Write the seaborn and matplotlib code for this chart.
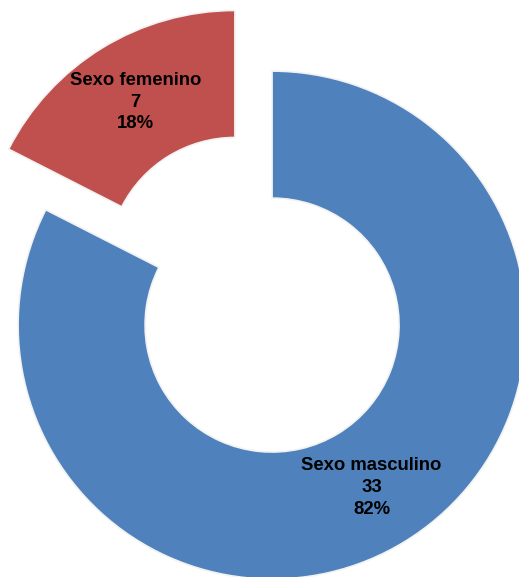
import numpy as np
import matplotlib
matplotlib.use("Agg")
import matplotlib.pyplot as plt
import seaborn as sns

sns.set_theme(style="white")
plt.rcParams["font.family"] = ["Liberation Sans", "DejaVu Sans"]

categories = ["Sexo masculino", "Sexo femenino"]
counts = [33, 7]
percent_labels = ["82%", "18%"]
colors = ["#4F81BD", "#C0504D"]
explode = [0.0, 0.28]

fig = plt.figure(figsize=(5.19, 5.77), dpi=100)
ax = fig.add_axes([0, 0, 1, 1])

wedges, _ = ax.pie(
    counts,
    colors=colors,
    explode=explode,
    startangle=90,
    counterclock=False,
    radius=1.0,
    wedgeprops=dict(width=0.5, edgecolor="#f2f2f2", linewidth=1.2),
)

for w, name, n, pct in zip(wedges, categories, counts, percent_labels):
    mid = np.deg2rad((w.theta1 + w.theta2) / 2)
    r = w.r - w.width / 2
    cx, cy = w.center
    ax.text(cx + r * np.cos(mid), cy + r * np.sin(mid),
            f"{name}\n{n}\n{pct}", ha="center", va="center",
            fontsize=13.3, fontweight="bold", color="black", linespacing=1.38)

ax.set_xlim(-1.071, 0.972)
ax.set_ylim(-0.992, 1.280)
ax.set_aspect("equal")
ax.axis("off")

fig.savefig("out.png", dpi=100)
